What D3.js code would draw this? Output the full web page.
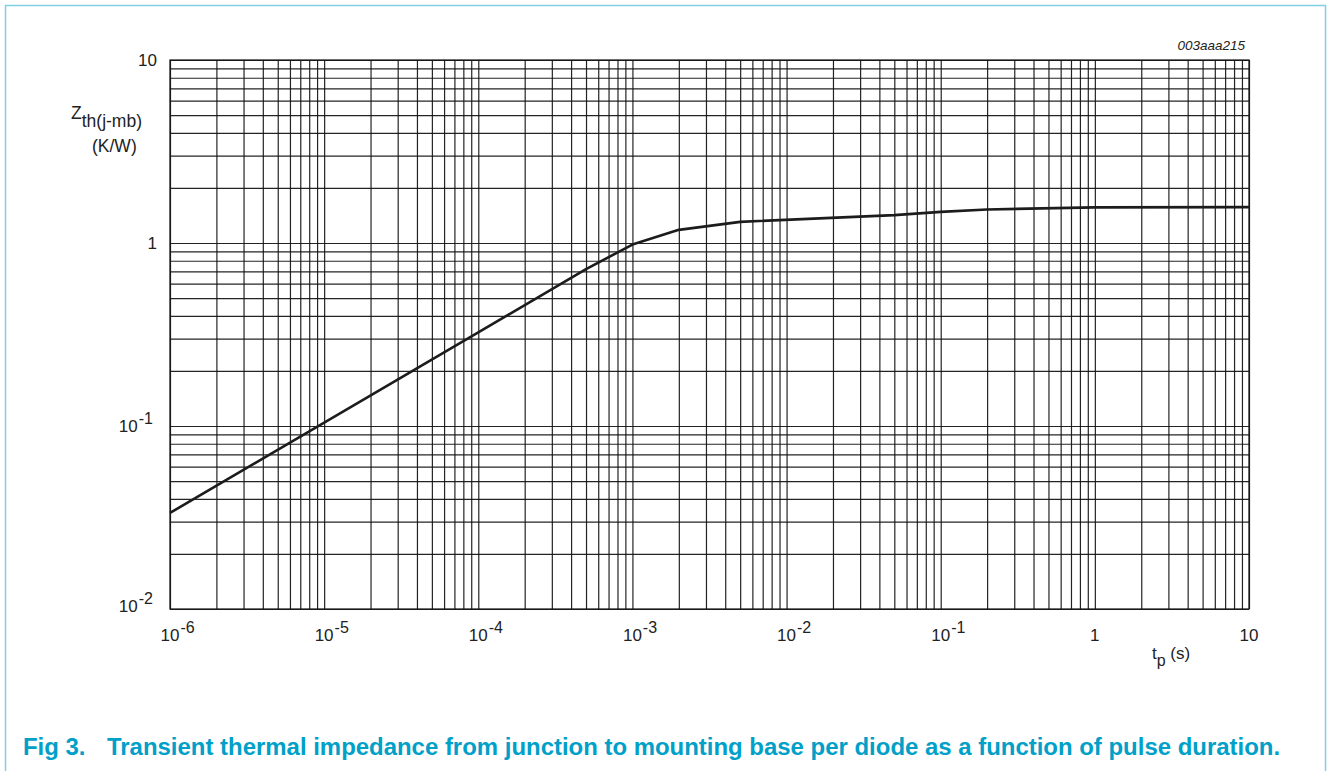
<!DOCTYPE html>
<html>
<head>
<meta charset="utf-8">
<script src="https://cdn.jsdelivr.net/npm/d3@7.9.0/dist/d3.min.js"></script>
<style>
  html, body { margin: 0; padding: 0; background: #fff; }
  svg { display: block; font-family: "Liberation Sans", Arial, sans-serif; }
</style>
</head>
<body>
<svg id="chart" width="1332" height="771"></svg>
<script>
// curve: pulse duration (s) vs Zth(j-mb) (K/W)
const pulseTime = [1e-6, 1e-4, 5e-4, 1e-3, 2e-3, 5e-3, 5e-2, 1e-1, 2e-1, 1, 10];
const zthValues = [0.0335, 0.325, 0.72, 0.98, 1.18, 1.305, 1.42, 1.48, 1.525, 1.565, 1.57];

// axis ticks (base 10, exponent) and domains
const xTicks = [[1e-6, '-6'], [1e-5, '-5'], [1e-4, '-4'], [1e-3, '-3'], [1e-2, '-2'], [1e-1, '-1'], [1, null], [10, null]];
const yTicks = [[1e-2, '-2'], [1e-1, '-1'], [1, null], [10, null]];
const xDomain = [1e-6, 10];
const yDomain = [1e-2, 10];

const svg = d3.select('#chart');
const plotL = 170, plotT = 60, plotR = 1249, plotB = 609;
const w = plotR - plotL, h = plotB - plotT;

// outer frame
svg.append('rect')
  .attr('x', 5.5).attr('y', 5.5)
  .attr('width', 1320).attr('height', 800)
  .attr('fill', 'none')
  .attr('stroke', '#7fd0e2')
  .attr('stroke-width', 1.5);

const x = d3.scaleLog().domain(xDomain).range([0, w]);
const y = d3.scaleLog().domain(yDomain).range([h, 0]);

// every 1..9 x 10^k line inside a domain
function logLines(dom) {
  let out = [];
  for (let e = Math.round(Math.log10(dom[0])); e < Math.round(Math.log10(dom[1])); e++) {
    for (let m = 1; m < 10; m++) out.push(m * Math.pow(10, e));
  }
  out.push(dom[1]);
  return out;
}

const g = svg.append('g').attr('transform', `translate(${plotL},${plotT})`);

// grid via axes
g.append('g')
  .attr('class', 'grid')
  .attr('transform', `translate(0,${h})`)
  .call(d3.axisBottom(x).tickValues(logLines(xDomain)).tickSize(-h).tickFormat(''));
g.append('g')
  .attr('class', 'grid')
  .call(d3.axisLeft(y).tickValues(logLines(yDomain)).tickSize(-w).tickFormat(''));
g.selectAll('.grid .domain').remove();
g.selectAll('.grid line')
  .attr('stroke', '#111')
  .attr('stroke-width', 1.2)
  .attr('stroke-opacity', 0.92);

// frame of plot
g.append('rect')
  .attr('width', w).attr('height', h)
  .attr('fill', 'none')
  .attr('stroke', '#111')
  .attr('stroke-width', 1.2);

// the curve
const line = d3.line()
  .x((d, i) => x(pulseTime[i]))
  .y((d, i) => y(zthValues[i]));
g.append('path')
  .datum(zthValues)
  .attr('d', line)
  .attr('fill', 'none')
  .attr('stroke', '#1c1c1c')
  .attr('stroke-width', 2.6)
  .attr('stroke-linejoin', 'round');

// x tick labels: "10" centred on the tick, exponent hangs right
xTicks.forEach(([v, ex]) => {
  const t = g.append('text')
    .attr('x', x(v))
    .attr('y', h + 32)
    .attr('font-size', 17)
    .attr('fill', '#222');
  if (ex === null) {
    t.attr('text-anchor', 'middle').text(v === 1 ? '1' : '10');
  } else {
    t.attr('x', x(v) - 9.5);
    t.append('tspan').text('10');
    t.append('tspan').attr('font-size', 16).attr('dy', -8).attr('dx', 1).text(ex);
  }
});

// y tick labels, right aligned
yTicks.forEach(([v, ex]) => {
  const t = g.append('text')
    .attr('x', ex === null ? -13 : -17)
    .attr('y', y(v) + (v === 1e-2 ? 3 : 6))
    .attr('text-anchor', 'end')
    .attr('font-size', 17)
    .attr('fill', '#222');
  if (ex === null) {
    t.text(v === 1 ? '1' : '10');
  } else {
    t.append('tspan').text('10');
    t.append('tspan').attr('font-size', 16).attr('dy', -8).attr('dx', 1).text(ex);
  }
});

// y axis title
const yt = svg.append('text')
  .attr('x', 71).attr('y', 119)
  .attr('font-size', 17.5).attr('fill', '#222');
yt.append('tspan').text('Z');
yt.append('tspan').attr('dy', 8).text('th(j-mb)');
svg.append('text')
  .attr('x', 92).attr('y', 152)
  .attr('font-size', 17.5).attr('fill', '#222')
  .text('(K/W)');

// x axis title
const xt = svg.append('text')
  .attr('x', 1152).attr('y', 659)
  .attr('font-size', 17).attr('fill', '#222');
xt.append('tspan').text('t');
xt.append('tspan').attr('dy', 7).attr('font-size', 16).text('p');
xt.append('tspan').attr('dy', -7).text(' (s)');

// figure code
svg.append('text')
  .attr('x', 1245).attr('y', 50)
  .attr('text-anchor', 'end')
  .attr('font-size', 13.5)
  .attr('font-style', 'italic')
  .attr('fill', '#222')
  .text('003aaa215');

// caption
const cap = svg.append('text')
  .attr('y', 755)
  .attr('font-size', 20)
  .attr('font-weight', 'bold')
  .attr('fill', '#00a0c8');
cap.append('tspan').attr('x', 23).text('Fig 3.');
const capText = cap.append('tspan').attr('x', 107)
  .text('Transient thermal impedance from junction to mounting base per diode as a function of pulse duration.');
// fit the long caption between x=107 and x=1281
const len = capText.node().getComputedTextLength();
cap.attr('font-size', 20 * 1174 / len);
</script>
</body>
</html>
